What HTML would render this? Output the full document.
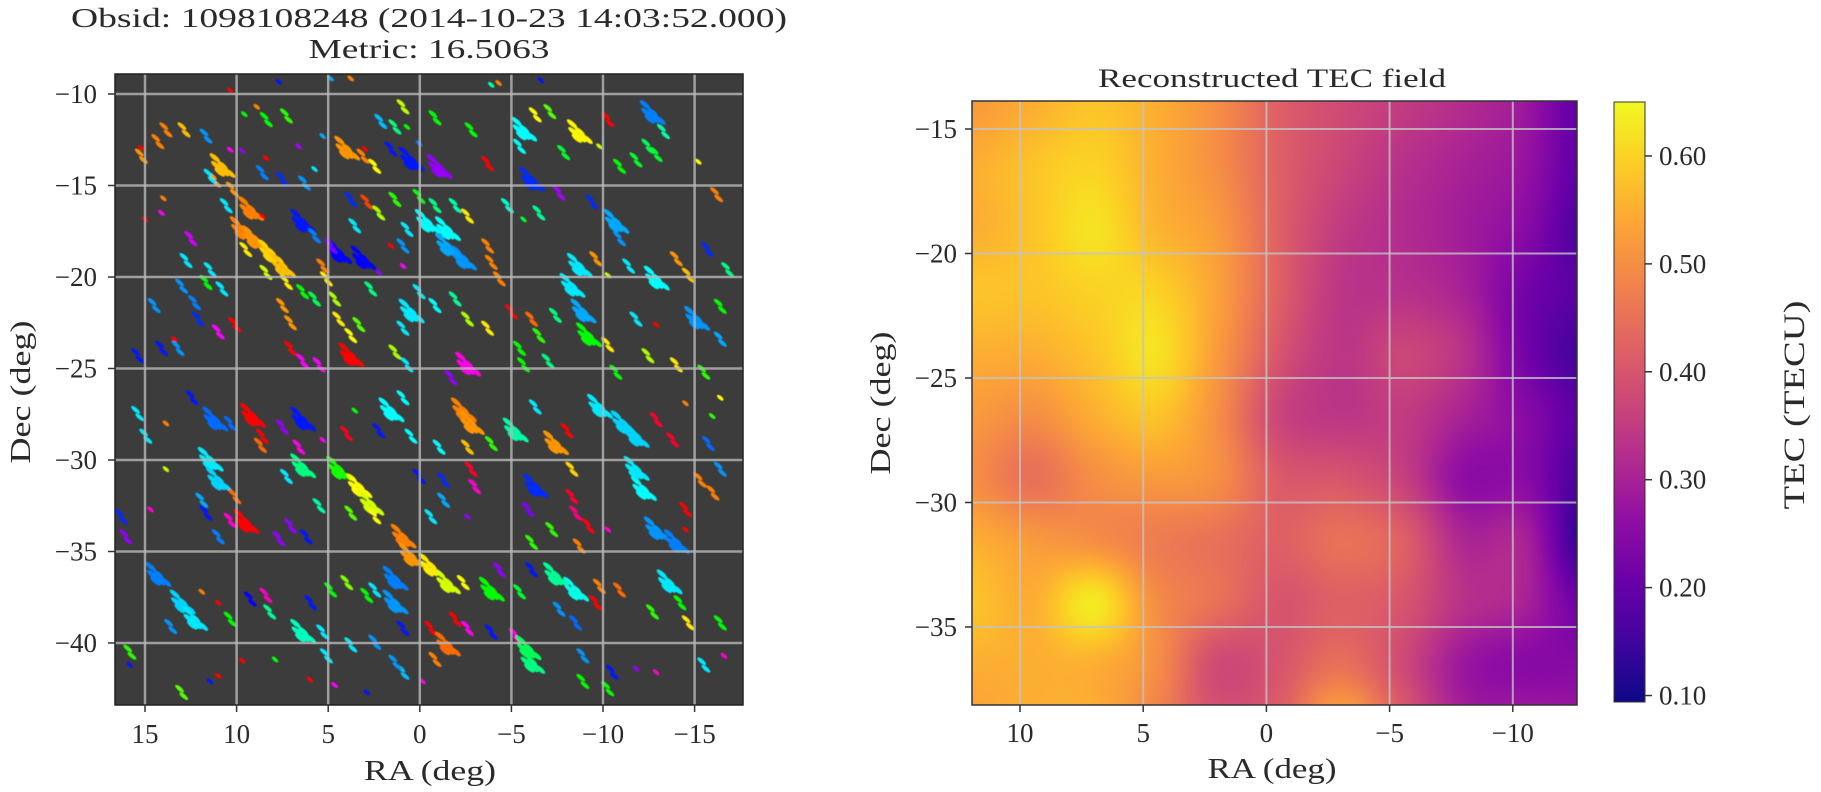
<!DOCTYPE html>
<html><head><meta charset="utf-8"><style>
html,body{margin:0;padding:0;background:#fff;}
#wrap{position:relative;width:1821px;height:792px;overflow:hidden;}
#tec-canvas{position:absolute;left:972px;top:101px;}
svg{position:absolute;left:0;top:0;}
text{font-family:"Liberation Serif",serif;fill:#2a2a2a;}
</style></head><body>
<div id="wrap">
<canvas id="tec-canvas" width="605" height="604"></canvas>
<svg id="fig" width="1821" height="792" xmlns="http://www.w3.org/2000/svg">
<defs>
<clipPath id="clipL"><rect x="115" y="74" width="628" height="631"/></clipPath>
<filter id="soft"><feGaussianBlur stdDeviation="0.6"/></filter>
<linearGradient id="cbGrad" x1="0" y1="1" x2="0" y2="0"></linearGradient>
</defs>
<g id="left-panel">
<rect x="115" y="74" width="628" height="631" fill="#3c3c3c"/>
<g id="blobs" clip-path="url(#clipL)" filter="url(#soft)"></g>
<g id="gridL" clip-path="url(#clipL)"></g>
<rect x="115" y="74" width="628" height="631" fill="none" stroke="#222" stroke-width="1.5"/>
<g id="ticksL"></g>
<text x="429" y="27" text-anchor="middle" font-size="27" textLength="716" lengthAdjust="spacingAndGlyphs">Obsid: 1098108248 (2014-10-23 14:03:52.000)</text>
<text x="429" y="58" text-anchor="middle" font-size="27" textLength="241" lengthAdjust="spacingAndGlyphs">Metric: 16.5063</text>
<text x="430" y="780" text-anchor="middle" font-size="28" textLength="132" lengthAdjust="spacingAndGlyphs">RA (deg)</text>
<text transform="translate(30,392) rotate(-90)" text-anchor="middle" font-size="28" textLength="143" lengthAdjust="spacingAndGlyphs">Dec (deg)</text>
</g>
<g id="right-panel">
<g id="gridR"></g>
<rect x="972" y="101" width="605" height="604" fill="none" stroke="#333" stroke-width="1.5"/>
<g id="ticksR"></g>
<text x="1272" y="87" text-anchor="middle" font-size="26" textLength="348" lengthAdjust="spacingAndGlyphs">Reconstructed TEC field</text>
<text x="1272" y="778" text-anchor="middle" font-size="28" textLength="129" lengthAdjust="spacingAndGlyphs">RA (deg)</text>
<text transform="translate(890,403) rotate(-90)" text-anchor="middle" font-size="28" textLength="143" lengthAdjust="spacingAndGlyphs">Dec (deg)</text>
<rect x="1614" y="102" width="31" height="600" fill="url(#cbGrad)" stroke="#333" stroke-width="1"/>
<g id="cbTicks"></g>
<text transform="translate(1804,405) rotate(-90)" text-anchor="middle" font-size="30" textLength="209" lengthAdjust="spacingAndGlyphs">TEC (TECU)</text>
</g>
</svg>
</div>
<script>
// ---------- Left panel data ----------
const leftXTicks = [15, 10, 5, 0, -5, -10, -15];
const leftYTicks = [-10, -15, -20, -25, -30, -35, -40];
const blobRA = [
13.86,12.87,14.3,15.2,15.2,11.67,8.38,7.28,8.9,9.58,
10.35,7.7,3.77,4.87,0.92,2.13,1.36,0.7,-0.83,-2.8,
-3.9,-4.3,-6.6,-6.3,-7.1,-5.66,-5.44,-8.7,-10.26,-9.8,
-12.68,-13.3,-12.45,-11.8,-12.9,-10.9,-15.2,-16.2,-7.85,-3.7,
4.0,3.1,2.46,3.0,1.58,0.48,-1.05,0.04,5.3,6.62,
8.4,9.7,10.35,10.8,11.2,10.24,11.45,8.6,7.5,6.3,
5.75,10.57,9.25,8.6,9.7,9.04,8.16,7.5,7.28,7.5,
7.06,9.5,8.4,6.4,5.75,4.43,3.1,3.77,2.9,2.24,
3.55,4.87,5.3,5.1,4.65,4.43,3.77,3.33,5.75,6.4,
1.36,0.04,-0.83,-0.4,-1.5,-1.5,-2.37,-1.93,-2.6,-3.7,
-3.9,-4.34,0.7,0.92,1.58,0.92,2.24,2.68,0.04,0.48,
-0.83,-1.93,0.92,-2.6,-3.7,-5.0,-6.1,-6.5,-5.44,-4.78,
-5.66,-6.5,-6.1,-7.6,-9.4,-10.7,-10.9,-9.6,-8.7,-8.3,
-8.9,-10.26,-11.4,-12.9,-14.0,-14.65,-15.7,-16.8,-16.4,-15.1,
-16.4,-12.9,-11.8,-10.26,-12.45,-14.0,-15.5,-10.7,-9.2,-7.4,
14.5,12.3,12.1,13.4,15.4,14.1,13.2,11.0,10.1,11.67,
13.0,10.8,11.45,12.5,14.1,15.0,14.0,12.76,7.06,6.4,
5.5,3.77,1.36,0.7,-2.6,-1.7,-5.66,-7.0,
15.4,14.96,13.86,12.43,11.2,10.35,9.14,8.6,8.7,7.5,
6.4,6.6,5.3,4.0,3.55,2.24,1.58,0.92,0.48,-1.05,
-2.37,-2.8,-2.6,-3.9,-5.2,-6.3,-7.4,-8.04,-8.3,-9.8,
-11.1,-11.8,-12.9,-13.8,-15.75,-15.96,-14.5,-16.4,11.45,11.0,
11.9,10.1,9.5,10.35,11.67,11.0,6.4,4.43,3.33,2.68,
2.46,3.77,5.5,7.28,7.06,6.2,7.7,0.92,0.48,-0.6,
-1.5,-2.37,0.04,-1.3,-2.8,-3.0,-1.3,-0.6,-2.6,-6.3,
-5.9,-8.3,-8.5,-9.2,-7.2,-6.1,-8.7,-10.26,-12.2,-11.8,
-12.9,-14.0,-14.5,-15.3,-16.0,-14.5,-16.4,-7.4,-8.5,-9.8,
-10.9,-9.6,-7.6,-8.5,-13.6,-14.2,-12.7,-14.65,-16.4,-3.9,
-5.44,-4.34,-6.1,1.36,1.36,0.92,2.46,2.9,3.99,4.87,
8.4,9.25,5.96,8.2,6.4,5.3,14.3,12.98,12.3,13.6,
10.35,11.0,11.9,16.05,16.3,14.7,13.86,-1.93,-2.6,-0.6,
-1.5,-0.83,-0.15,-3.9,-5.2,-6.1,-8.9,-10.5,-10.26,-11.8,
-12.9,-15.5,-16.6,-8.9,15.83,15.83,13.0,11.45,11.0,9.7,
7.9,6.0,4.65,2.9,0.92,1.36,5.1,3.77,2.46,-5.9
];
const blobDec = [
-11.96,-11.96,-12.6,-13.4,-12.95,-12.3,-11.4,-11.2,-10.7,-11.1,
-9.8,-9.33,-9.15,-9.15,-10.7,-11.5,-11.8,-11.8,-11.3,-11.96,
-9.5,-9.4,-9.24,-11.14,-10.96,-11.96,-12.86,-12.1,-11.4,-12.86,
-11.05,-12.05,-12.86,-13.6,-13.3,-13.95,-13.7,-15.5,-13.2,-13.8,
-13.0,-13.4,-13.95,-13.0,-13.0,-13.6,-14.0,-12.7,-12.3,-12.86,
-13.5,-13.1,-13.04,-13.95,-14.7,-15.2,-14.5,-14.3,-14.67,-14.86,
-14.1,-16.1,-16.3,-16.67,-17.4,-17.9,-18.66,-19.4,-20.3,-21.56,
-22.5,-18.5,-19.75,-17.0,-17.75,-18.66,-19.0,-15.76,-15.9,-16.5,
-17.2,-18.3,-19.4,-20.1,-21.2,-22.3,-23.2,-22.6,-21.2,-20.8,
-15.76,-15.6,-16.1,-17.0,-17.4,-18.3,-19.0,-16.1,-16.67,-18.3,
-19.2,-20.1,-17.4,-18.3,-18.3,-19.4,-19.75,-20.65,-20.8,-21.9,
-21.56,-21.2,-22.8,-22.3,-22.8,-21.9,-22.3,-23.2,-23.9,-16.1,
-16.85,-16.5,-14.7,-15.4,-15.9,-17.0,-17.9,-19.0,-19.4,-20.5,
-21.9,-19.9,-19.4,-20.1,-19.0,-19.9,-18.5,-19.6,-21.6,-22.3,
-23.4,-22.6,-22.3,-23.7,-24.3,-24.8,-25.2,-25.2,-23.2,-22.1,
-21.56,-21.4,-22.3,-23.4,-24.3,-23.9,-23.9,-23.0,-22.6,-20.3,
-20.5,-20.65,-19.6,-17.9,-16.5,-16.85,-15.7,-19.1,-23.9,-24.6,
-24.8,-24.3,-24.1,-24.8,-24.8,-25.5,-24.8,-24.6,
-27.46,-28.7,-28.0,-26.6,-27.8,-28.0,-27.6,-28.7,-29.2,-28.2,
-27.8,-29.3,-28.9,-28.55,-27.3,-28.4,-27.3,-26.6,-28.7,-29.3,
-27.3,-28.0,-29.3,-29.1,-28.4,-27.1,-29.1,-28.4,-30.5,-27.1,
-28.0,-28.7,-27.8,-28.9,-29.1,-27.6,-26.9,-26.6,-30.0,-31.1,
-32.2,-32.0,-33.4,-33.3,-32.9,-34.2,-30.36,-30.5,-31.45,-32.4,
-33.1,-32.9,-32.5,-30.9,-33.6,-34.2,-34.3,-34.2,-35.25,-35.8,
-36.7,-36.7,-30.9,-31.1,-30.5,-31.45,-32.2,-33.1,-33.1,-31.45,
-32.7,-32.0,-32.9,-33.6,-33.8,-34.5,-34.7,-33.8,-31.6,-30.5,
-33.8,-34.5,-33.8,-31.1,-31.8,-32.7,-30.5,-36.3,-37.1,-36.9,
-37.1,-37.8,-38.15,-38.9,-36.7,-37.8,-38.3,-38.9,-38.9,-37.1,
-37.2,-36.0,-36.0,-36.5,-37.8,-39.2,-37.1,-37.4,-36.7,-37.1,
-37.4,-37.6,-37.8,-38.3,-39.4,-39.4,-36.3,-37.8,-38.7,-39.1,
-38.7,-37.8,-37.2,-34.2,-33.1,-32.7,-30.5,-38.7,-39.2,-39.2,
-40.1,-40.9,-42.1,-39.4,-39.6,-41.05,-40.7,-41.6,-42.5,-41.4,
-41.6,-41.2,-40.7,-42.1,-40.5,-41.2,-42.7,-42.1,-41.8,-40.96,
-40.9,-42.0,-42.3,-42.7,-41.6,-41.05,-40.7,-40.1,-39.96,-40.3
];
const blobHue = [
30,45,30,35,0,205,120,110,30,120,
0,235,30,200,75,195,150,120,120,120,
160,30,235,60,100,180,180,58,0,75,
210,160,140,130,130,120,60,30,130,0,
35,30,60,0,235,235,275,210,200,280,
0,275,300,45,35,35,185,210,230,205,
185,185,30,0,30,35,50,45,55,35,
35,55,70,235,210,240,240,230,15,80,
185,270,30,55,80,55,60,100,140,120,
110,120,150,180,180,200,205,160,55,30,
30,30,185,205,0,300,275,150,185,185,
180,155,185,80,55,0,25,110,120,170,
130,155,230,280,230,200,205,35,185,185,
200,75,185,180,35,45,230,150,120,205,
200,0,185,55,80,55,110,120,120,150,
205,210,230,0,235,235,205,300,0,120,
205,185,185,290,300,0,30,185,0,300,
300,0,80,185,305,275,120,150,
185,185,30,235,215,215,0,0,25,275,
235,305,305,355,120,235,180,180,180,180,
30,35,45,110,160,185,35,0,50,185,
190,190,350,350,215,110,30,60,185,190,
200,25,0,310,235,210,150,115,60,70,
60,100,160,185,275,235,275,30,35,55,
70,60,235,230,350,310,200,185,275,230,
270,350,330,355,110,110,30,310,180,185,
205,210,0,30,30,0,205,155,175,30,
25,0,205,215,185,120,110,55,120,120,
130,275,235,210,205,235,185,120,90,120,
315,240,235,155,165,185,210,190,185,205,
120,0,30,275,230,310,75,0,305,0,
25,30,305,235,305,150,205,235,120,275,
310,185,310,120,110,235,100,235,0,0,
120,0,300,235,195,205,185,185,205,140
];
const blobSize = [
2,2,2,2,1,2,2,2,1,1,
1,1,1,1,2,2,2,1,2,2,
1,1,1,2,2,3,2,3,2,1,
3,2,2,2,2,2,1,2,2,2,
3,2,2,1,2,3,3,1,1,1,
1,1,1,3,2,2,2,2,2,2,
1,2,3,1,3,3,3,3,2,2,
2,2,2,3,2,3,3,2,2,2,
2,2,2,2,2,2,2,2,2,2,
2,2,2,3,3,3,3,2,2,2,
2,2,2,2,1,1,1,2,2,3,
2,2,2,2,2,2,2,2,2,2,
1,2,3,2,2,3,2,2,3,3,
3,1,2,3,2,2,2,2,2,3,
2,1,2,2,2,2,2,2,3,2,
2,2,2,1,2,2,2,2,2,2,
2,2,2,2,1,1,1,2,2,2,
2,3,2,2,3,2,2,2,
2,2,1,2,3,2,3,2,2,2,
3,2,1,2,1,2,3,2,2,2,
3,3,2,2,3,2,3,2,2,3,
3,3,2,2,2,1,1,1,3,3,
2,2,3,2,2,2,3,3,3,3,
2,2,2,2,2,2,2,3,3,3,
3,2,2,2,2,2,2,2,1,3,
2,2,2,2,2,2,2,1,3,3,
3,3,1,2,2,2,2,3,3,2,
2,2,2,2,3,2,2,2,2,3,
2,2,2,3,3,2,2,2,2,2,
2,2,2,2,3,2,3,3,3,2,
2,1,1,2,2,1,1,2,2,2,
3,2,1,2,2,3,2,2,2,1,
1,2,1,2,2,1,2,1,1,1,
1,1,1,1,2,2,2,2,2,3
];

// ---------- Right panel data ----------
const rightXTicks = [10, 5, 0, -5, -10];
const rightYTicks = [-15, -20, -25, -30, -35];
const tecRA = [12, 9.5, 7, 4.5, 2, -0.5, -3, -5.5, -8, -10.5, -13];
const tecDec = [-14, -16.5, -19, -21.5, -24, -26.5, -29, -31.5, -34, -36.5, -39];
const tecGrid = [
[0.52,0.55,0.58,0.55,0.50,0.42,0.38,0.35,0.32,0.28,0.18],
[0.55,0.58,0.60,0.55,0.50,0.42,0.37,0.33,0.30,0.27,0.18],
[0.55,0.58,0.62,0.56,0.52,0.42,0.35,0.32,0.29,0.25,0.16],
[0.58,0.58,0.60,0.60,0.53,0.42,0.34,0.33,0.30,0.22,0.18],
[0.55,0.55,0.58,0.62,0.52,0.40,0.34,0.37,0.33,0.22,0.15],
[0.52,0.50,0.55,0.58,0.50,0.37,0.34,0.35,0.30,0.25,0.18],
[0.50,0.45,0.50,0.52,0.50,0.41,0.40,0.36,0.26,0.25,0.15],
[0.55,0.52,0.50,0.47,0.45,0.42,0.45,0.42,0.31,0.30,0.12],
[0.58,0.55,0.63,0.50,0.45,0.40,0.42,0.40,0.33,0.30,0.20],
[0.55,0.55,0.55,0.50,0.38,0.40,0.45,0.38,0.28,0.25,0.25],
[0.53,0.55,0.55,0.48,0.40,0.42,0.55,0.42,0.30,0.30,0.28]
];
const cbTicks = [0.10, 0.20, 0.30, 0.40, 0.50, 0.60];
const cbLabels = ["0.10", "0.20", "0.30", "0.40", "0.50", "0.60"];
const vMin = 0.094, vMax = 0.65;

const plasma = ["#0d0887","#41049d","#6a00a8","#8f0da4","#b12a90","#cc4778","#e16462","#f2844b","#fca636","#fcce25","#f0f921"];

const NS = "http://www.w3.org/2000/svg";
function mk(tag, attrs, parent) {
  const e = document.createElementNS(NS, tag);
  for (const k in attrs) e.setAttribute(k, attrs[k]);
  parent.appendChild(e);
  return e;
}
const xL = ra => 419.8 - ra * 18.32;
const yL = dec => 94 + (-10 - dec) * 18.3;
const xR = ra => 1020 + (10 - ra) * 24.64;
const yR = dec => 129 + (-15 - dec) * 24.9;

// blobs: each source drawn as a small group of thin streaks (rendering style only)
const blobG = document.getElementById('blobs');
const streakLayout = {
  1: [[0, 0]],
  2: [[-4, -1.5], [4, 1.5]],
  3: [[-11, -2], [-5, 3], [0, -1], [5, 3], [11, 0], [2, 6]]
};
const streakRx = {1: 4, 2: 5.5, 3: 6.5}, streakRy = {1: 1.8, 2: 2.0, 3: 2.3};
const ang = 40 * Math.PI / 180, ca = Math.cos(ang), sa = Math.sin(ang);
for (let i = 0; i < blobRA.length; i++) {
  const cx = xL(blobRA[i]), cy = yL(blobDec[i]);
  const s = blobSize[i];
  const grp = mk('g', {fill: 'hsl(' + blobHue[i] + ',100%,50%)'}, blobG);
  
  
  streakLayout[s].forEach(o => {
    const x = cx + o[0] * ca - o[1] * sa, y = cy + o[0] * sa + o[1] * ca;
    mk('ellipse', {cx: x, cy: y, rx: streakRx[s], ry: streakRy[s], transform: 'rotate(40 ' + x + ' ' + y + ')'}, grp);
  });
}
const gL = document.getElementById('gridL'), tL = document.getElementById('ticksL');
leftXTicks.forEach(v => {
  const x = xL(v);
  const g = mk('line', {x1: x, x2: x, y1: 74, y2: 705, stroke: '#b8b8b8', 'stroke-width': 2.5, opacity: 0.8}, gL);
  
  
  mk('line', {x1: x, x2: x, y1: 705, y2: 712, stroke: '#333', 'stroke-width': 1.5}, tL);
  const t = mk('text', {x: x, y: 743, 'text-anchor': 'middle', 'font-size': 27}, tL);
  t.textContent = v < 0 ? '\u2212' + (-v) : String(v);
  
  
});
leftYTicks.forEach(v => {
  const y = yL(v);
  const g = mk('line', {x1: 115, x2: 743, y1: y, y2: y, stroke: '#b8b8b8', 'stroke-width': 2.5, opacity: 0.8}, gL);
  
  
  mk('line', {x1: 108, x2: 115, y1: y, y2: y, stroke: '#333', 'stroke-width': 1.5}, tL);
  const t = mk('text', {x: 97, y: y + 9, 'text-anchor': 'end', 'font-size': 27}, tL);
  t.textContent = '\u2212' + (-v);
  
  
});

function hex(c) { return [parseInt(c.substr(1,2),16), parseInt(c.substr(3,2),16), parseInt(c.substr(5,2),16)]; }
const pRGB = plasma.map(hex);
function cmap(v) {
  let t = (v - vMin) / (vMax - vMin);
  t = Math.max(0, Math.min(1, t)) * (pRGB.length - 1);
  const i = Math.min(pRGB.length - 2, Math.floor(t)), f = t - i;
  const a = pRGB[i], b = pRGB[i + 1];
  return [a[0] + (b[0]-a[0])*f, a[1] + (b[1]-a[1])*f, a[2] + (b[2]-a[2])*f];
}
function cr(p0, p1, p2, p3, t) {
  return p1 + 0.5 * t * (p2 - p0 + t * (2*p0 - 5*p1 + 4*p2 - p3 + t * (3*(p1 - p2) + p3 - p0)));
}
const nR = tecDec.length, nC = tecRA.length;
function g(r, c) { r = Math.max(0, Math.min(nR-1, r)); c = Math.max(0, Math.min(nC-1, c)); return tecGrid[r][c]; }
function tecAt(ra, dec) {
  const fc = (tecRA[0] - ra) / (tecRA[0] - tecRA[1]);
  const fr = (tecDec[0] - dec) / (tecDec[0] - tecDec[1]);
  const c = Math.floor(fc), r = Math.floor(fr), tc = fc - c, tr = fr - r;
  const rows = [];
  for (let k = -1; k <= 2; k++) rows.push(cr(g(r+k,c-1), g(r+k,c), g(r+k,c+1), g(r+k,c+2), tc));
  return cr(rows[0], rows[1], rows[2], rows[3], tr);
}
const cv = document.getElementById('tec-canvas'), ctx = cv.getContext('2d');
const img = ctx.createImageData(cv.width, cv.height);
for (let py = 0; py < cv.height; py++) {
  const dec = -15 - (py + 101 - 129) / 24.9;
  for (let px = 0; px < cv.width; px++) {
    const ra = 10 - (px + 972 - 1020) / 24.64;
    const col = cmap(tecAt(ra, dec));
    const o = (py * cv.width + px) * 4;
    img.data[o] = col[0]; img.data[o+1] = col[1]; img.data[o+2] = col[2]; img.data[o+3] = 255;
  }
}
ctx.putImageData(img, 0, 0);

const gR = document.getElementById('gridR'), tR = document.getElementById('ticksR');
rightXTicks.forEach(v => {
  const x = xR(v);
  const l = mk('line', {x1: x, x2: x, y1: 101, y2: 705, stroke: '#c4c4c4', 'stroke-width': 2, opacity: 0.8}, gR);
  
  
  mk('line', {x1: x, x2: x, y1: 705, y2: 712, stroke: '#333', 'stroke-width': 1.5}, tR);
  const t = mk('text', {x: x, y: 742, 'text-anchor': 'middle', 'font-size': 27}, tR);
  t.textContent = v < 0 ? '\u2212' + (-v) : String(v);
  
  
});
rightYTicks.forEach(v => {
  const y = yR(v);
  const l = mk('line', {x1: 972, x2: 1577, y1: y, y2: y, stroke: '#c4c4c4', 'stroke-width': 2, opacity: 0.8}, gR);
  
  
  mk('line', {x1: 965, x2: 972, y1: y, y2: y, stroke: '#333', 'stroke-width': 1.5}, tR);
  const t = mk('text', {x: 957, y: y + 9, 'text-anchor': 'end', 'font-size': 27}, tR);
  t.textContent = '\u2212' + (-v);
  
  
});
const grad = document.getElementById('cbGrad');
plasma.forEach((c, i) => mk('stop', {offset: (i / (plasma.length - 1)), 'stop-color': c}, grad));
const yCB = v => 702 - (v - vMin) / (vMax - vMin) * 600;
const cbG = document.getElementById('cbTicks');
cbTicks.forEach((v, i) => {
  const y = yCB(v);
  mk('line', {x1: 1645, x2: 1652, y1: y, y2: y, stroke: '#333', 'stroke-width': 1.5}, cbG);
  const t = mk('text', {x: 1659, y: y + 9, 'font-size': 27}, cbG);
  t.textContent = cbLabels[i];
  
  
});
</script>
</body></html>
